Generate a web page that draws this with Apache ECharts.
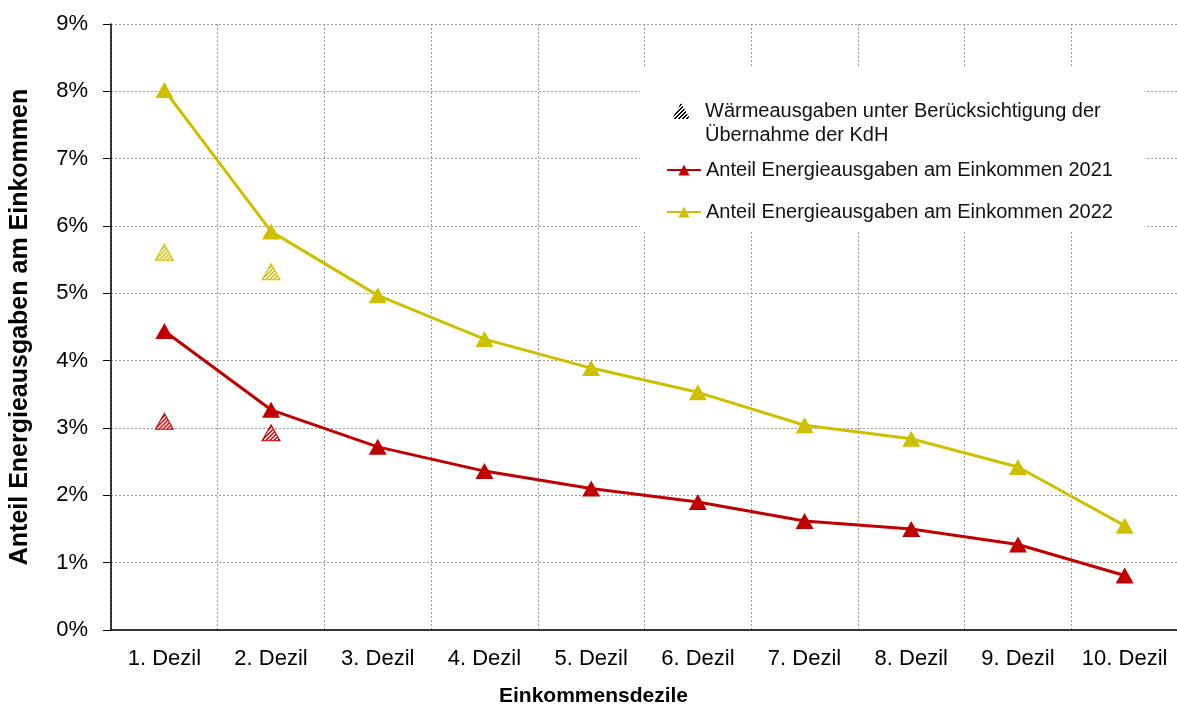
<!DOCTYPE html>
<html>
<head>
<meta charset="utf-8">
<script src="https://cdn.jsdelivr.net/npm/echarts@6/dist/echarts.min.js"></script>
<style>
  html, body { margin: 0; padding: 0; background: #fff; }
  #chart { width: 1177px; height: 709px; }
</style>
</head>
<body>
<div id="chart"></div>
<script>
// data
const categories = ['1. Dezil', '2. Dezil', '3. Dezil', '4. Dezil', '5. Dezil',
  '6. Dezil', '7. Dezil', '8. Dezil', '9. Dezil', '10. Dezil']
const share2021 = [4.44, 3.27, 2.72, 2.36, 2.10, 1.90, 1.62, 1.50, 1.27, 0.81]
const share2022 = [8.02, 5.92, 4.97, 4.32, 3.89, 3.53, 3.04, 2.84, 2.42, 1.55]
// KdH values only exist for the first two deciles
const kdh2021 = [3.10, 2.93]
const kdh2022 = [5.61, 5.32]
const yTicks = [0, 1, 2, 3, 4, 5, 6, 7, 8, 9]

const RED = '#C00000'
const YELLOW = '#CEC000'
const NAME_KDH = 'Wärmeausgaben unter Berücksichtigung der\nÜbernahme der KdH'
const NAME_2021 = 'Anteil Energieausgaben am Einkommen 2021'
const NAME_2022 = 'Anteil Energieausgaben am Einkommen 2022'

const SYM = [18, 16]

// diagonal hatch fill for the KdH triangles
// sx/sy undo the scaling echarts applies to symbol paths
function hatch(color, sx, sy) {
  const c = document.createElement('canvas')
  c.width = 4
  c.height = 4
  const ctx = c.getContext('2d')
  ctx.fillStyle = '#fff'
  ctx.fillRect(0, 0, 4, 4)
  ctx.fillStyle = color
  for (let y = 0; y < 4; y++) {
    for (let x = 0; x < 4; x++) {
      if ((x + y) % 4 === 1 || (x + y) % 4 === 2) ctx.fillRect(x, y, 1, 1)
    }
  }
  return { image: c, repeat: 'repeat', scaleX: sx || 1, scaleY: sy || 1 }
}

const kdhData = []
kdh2022.forEach((v, i) => {
  kdhData.push({
    value: [i, v],
    itemStyle: { color: hatch(YELLOW, 2 / SYM[0], 2 / SYM[1]), borderColor: YELLOW, borderWidth: 1 }
  })
})
kdh2021.forEach((v, i) => {
  kdhData.push({
    value: [i, v],
    itemStyle: { color: hatch(RED, 2 / SYM[0], 2 / SYM[1]), borderColor: RED, borderWidth: 1 }
  })
})

const chart = echarts.init(document.getElementById('chart'), null, { renderer: 'canvas' })

const font = 'Arial, "Liberation Sans", sans-serif'

const option = {
  backgroundColor: '#fff',
  textStyle: { fontFamily: font },
  animation: false,
  grid: { left: 111, right: -1, top: 24, bottom: 79, outerBoundsMode: 'none', containLabel: false },
  legend: [
    {
      // white box behind the whole legend, holds the KdH entry
      orient: 'vertical',
      left: 640,
      top: 68,
      padding: [7, 44, 83, 32],
      backgroundColor: '#fff',
      itemWidth: 18,
      itemHeight: 16,
      textStyle: { fontSize: 20, color: '#111', lineHeight: 24, fontFamily: font, padding: [0, 0, 0, 10] },
      // leading blank line keeps the icon level with the first text line
      formatter: name => '\n' + name,
      data: [{ name: NAME_KDH, icon: 'triangle' }]
    },
    {
      orient: 'vertical',
      left: 666,
      top: 160,
      padding: 0,
      itemWidth: 34,
      itemHeight: 14,
      itemGap: 22,
      textStyle: { fontSize: 20, color: '#111', lineHeight: 20, fontFamily: font },
      data: [NAME_2021, NAME_2022]
    }
  ],
  xAxis: {
    type: 'category',
    data: categories,
    boundaryGap: true,
    name: 'Einkommensdezile',
    nameLocation: 'middle',
    nameGap: 56,
    nameTextStyle: { fontSize: 21, fontWeight: 'bold', color: '#000', padding: [0, 102, 0, 0] },
    axisLine: { lineStyle: { color: '#000', width: 1.5 } },
    axisTick: { show: false },
    axisLabel: { fontSize: 22, color: '#000', margin: 18, interval: 0 },
    splitLine: { show: true, interval: 0, lineStyle: { color: '#999', type: [2, 2], width: 1 } }
  },
  yAxis: {
    type: 'value',
    min: yTicks[0],
    max: yTicks[yTicks.length - 1],
    interval: 1,
    name: 'Anteil Energieausgaben am Einkommen',
    nameLocation: 'middle',
    nameGap: 78,
    nameTextStyle: { fontSize: 25, fontWeight: 'bold', color: '#000' },
    axisLine: { show: true, lineStyle: { color: '#000', width: 1.5 } },
    axisTick: { show: true, length: 8, lineStyle: { color: '#000' } },
    axisLabel: { fontSize: 22, color: '#000', margin: 23, formatter: '{value}%' },
    splitLine: { show: true, lineStyle: { color: '#999', type: [2, 2], width: 1 } }
  },
  series: [
    {
      name: NAME_KDH,
      type: 'scatter',
      symbol: 'triangle',
      symbolSize: SYM,
      // series colour is only used by the legend icon (black hatch)
      itemStyle: { color: hatch('#000'), borderColor: '#000', borderWidth: 0, opacity: 1 },
      data: kdhData,
      z: 3
    },
    {
      name: NAME_2021,
      type: 'line',
      data: share2021,
      symbol: 'triangle',
      symbolSize: SYM,
      lineStyle: { color: RED, width: 3 },
      itemStyle: { color: RED },
      z: 4
    },
    {
      name: NAME_2022,
      type: 'line',
      data: share2022,
      symbol: 'triangle',
      symbolSize: SYM,
      lineStyle: { color: YELLOW, width: 3 },
      itemStyle: { color: YELLOW },
      z: 4
    }
  ]
}

chart.setOption(option)
</script>
</body>
</html>
